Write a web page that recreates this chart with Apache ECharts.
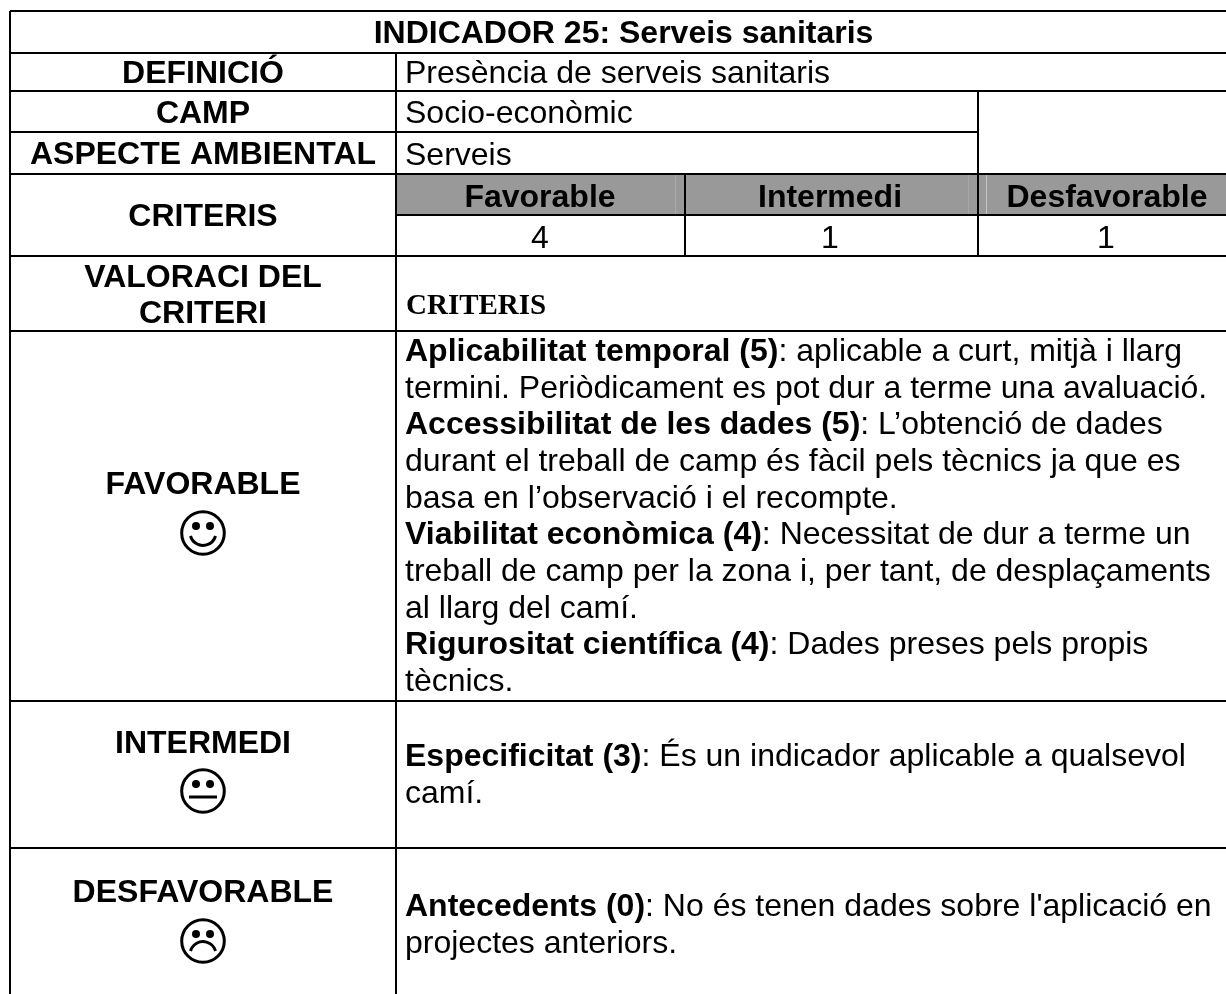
<!DOCTYPE html>
<html>
<head>
<meta charset="utf-8">
<style>html,body{margin:0;padding:0;background:#fff}#main{width:1226px;height:994px}</style>
<script src="https://cdn.jsdelivr.net/npm/echarts@6/dist/echarts.min.js"></script>
</head>
<body>
<div id="main"></div>
<script>
// table content
var titleText = 'INDICADOR 25: Serveis sanitaris';
var headLabels = ['DEFINICIÓ', 'CAMP', 'ASPECTE AMBIENTAL', 'CRITERIS'];
var headValues = ['Presència de serveis sanitaris', 'Socio-econòmic', 'Serveis'];
var criteriaNames = ['Favorable', 'Intermedi', 'Desfavorable'];
var criteriaScores = [4, 1, 1];
var valoraLabel = ['VALORACI DEL', 'CRITERI'];
var valoraValue = 'CRITERIS';
var groupNames = ['FAVORABLE', 'INTERMEDI', 'DESFAVORABLE'];
var favorableLines = [
  ['Aplicabilitat temporal (5)', ': aplicable a curt, mitjà i llarg'],
  ['', 'termini. Periòdicament es pot dur a terme una avaluació.'],
  ['Accessibilitat de les dades (5)', ': L’obtenció de dades'],
  ['', 'durant el treball de camp és fàcil pels tècnics ja que es'],
  ['', 'basa en l’observació i el recompte.'],
  ['Viabilitat econòmica (4)', ': Necessitat de dur a terme un'],
  ['', 'treball de camp per la zona i, per tant, de desplaçaments'],
  ['', 'al llarg del camí.'],
  ['Rigurositat científica (4)', ': Dades preses pels propis'],
  ['', 'tècnics.']
];
var intermediLines = [
  ['Especificitat (3)', ': És un indicador aplicable a qualsevol'],
  ['', 'camí.']
];
var desfavorableLines = [
  ['Antecedents (0)', ': No és tenen dades sobre l\'aplicació en'],
  ['', 'projectes anteriors.']
];

// layout in image pixels
var W = 1226, H = 994;
var xL = 10, xM = 396, xA = 685, xB = 978;
var yRow = [11, 53, 91, 132, 174, 215, 256, 331, 701, 848];
var pitch = 36.7;
var fontSize = 32;
var textX = 405;
var sansFont = '"Liberation Sans", Arial, sans-serif';

var rules = [
  [xL, yRow[0], W, yRow[0]], [xL, yRow[1], W, yRow[1]], [xL, yRow[2], W, yRow[2]],
  [xL, yRow[3], xB, yRow[3]], [xL, yRow[4], W, yRow[4]], [xM, yRow[5], W, yRow[5]],
  [xL, yRow[6], W, yRow[6]], [xL, yRow[7], W, yRow[7]], [xL, yRow[8], W, yRow[8]],
  [xL, yRow[9], W, yRow[9]],
  [xL, yRow[0], xL, H], [xM, yRow[1], xM, H],
  [xB, yRow[2], xB, yRow[6]], [xA, yRow[4], xA, yRow[6]]
];
// pale scan marks inside the grey header cells
var paleMarks = [[675.5, '#aaaaaa'], [968.5, '#a6a6a6'], [986.5, '#c4c4c4']];

var texts = [];
function addText(x, y, text, align, bold, size) {
  texts.push({ value: [x, y], text: text, align: align, bold: bold, size: size });
}
function addLines(lines, y0) {
  lines.forEach(function (l, i) {
    texts.push({ value: [textX, y0 + i * pitch], parts: l });
  });
}
addText(623.5, 34, titleText, 'center', true, fontSize);
addText(203, 74, headLabels[0], 'center', true, fontSize);
addText(203, 114, headLabels[1], 'center', true, fontSize);
addText(203, 155, headLabels[2], 'center', true, fontSize);
addText(203, 217, headLabels[3], 'center', true, fontSize);
addText(textX, 74, headValues[0], 'left', false, fontSize);
addText(textX, 114, headValues[1], 'left', false, fontSize);
addText(textX, 156, headValues[2], 'left', false, fontSize);
[[540, 540], [830, 830], [1107, 1106]].forEach(function (cx, i) {
  addText(cx[0], 198, criteriaNames[i], 'center', true, fontSize);
  addText(cx[1], 239, String(criteriaScores[i]), 'center', false, fontSize);
});
addText(203, 278, valoraLabel[0], 'center', true, fontSize);
addText(203, 314.5, valoraLabel[1], 'center', true, fontSize);
addText(textX + 1, 307, valoraValue, 'serif', true, 29);
addText(203, 485.5, groupNames[0], 'center', true, fontSize);
addText(203, 744, groupNames[1], 'center', true, fontSize);
addText(203, 893.5, groupNames[2], 'center', true, fontSize);
addLines(favorableLines, 352);
addLines(intermediLines, 757);
addLines(desfavorableLines, 907);

var faces = [[203, 533, 0], [203, 791, 1], [203, 941, 2]];
var greyCells = [[xM, yRow[4], W, yRow[5]]];

function renderRect(params, api) {
  var a = api.coord([api.value(0), api.value(1)]), b = api.coord([api.value(2), api.value(3)]);
  return { type: 'rect', shape: { x: a[0], y: a[1], width: b[0] - a[0], height: b[1] - a[1] }, style: { fill: '#999999' } };
}
function renderRule(params, api) {
  var a = api.coord([api.value(0), api.value(1)]), b = api.coord([api.value(2), api.value(3)]);
  return { type: 'line', shape: { x1: a[0], y1: a[1], x2: b[0], y2: b[1] }, style: { stroke: '#000', lineWidth: 2 } };
}
function renderPale(params, api) {
  var a = api.coord([paleMarks[params.dataIndex][0], yRow[4] + 1]), b = api.coord([paleMarks[params.dataIndex][0], yRow[5] - 1]);
  return { type: 'line', shape: { x1: a[0], y1: a[1], x2: b[0], y2: b[1] }, style: { stroke: paleMarks[params.dataIndex][1], lineWidth: 1 } };
}
function renderText(params, api) {
  var d = texts[params.dataIndex];
  var p = api.coord(d.value);
  if (d.parts) {
    return {
      type: 'text', x: p[0], y: p[1],
      style: {
        text: (d.parts[0] ? '{b|' + d.parts[0] + '}' : '') + '{n|' + d.parts[1] + '}',
        align: 'left', verticalAlign: 'middle',
        rich: {
          b: { fontFamily: sansFont, fontSize: fontSize, fontWeight: 'bold', fill: '#000' },
          n: { fontFamily: sansFont, fontSize: fontSize, fill: '#000' }
        }
      }
    };
  }
  var serif = d.align === 'serif';
  return {
    type: 'text', x: p[0], y: p[1],
    style: {
      text: d.text, align: serif ? 'left' : d.align, verticalAlign: 'middle', fill: '#000',
      font: (d.bold ? 'bold ' : '') + d.size + 'px ' + (serif ? '"Liberation Serif", serif' : sansFont)
    }
  };
}
function renderFace(params, api) {
  var c = api.coord([api.value(0), api.value(1)]);
  var kind = api.value(2);
  var x = c[0], y = c[1];
  var mouth = kind === 0 ? 'M' + (x - 12.5) + ' ' + (y + 3) + ' A13 13 0 0 0 ' + (x + 12.5) + ' ' + (y + 3)
    : kind === 1 ? 'M' + (x - 14) + ' ' + (y + 6) + ' L' + (x + 14) + ' ' + (y + 6)
    : 'M' + (x - 12.5) + ' ' + (y + 10) + ' A13 13 0 0 1 ' + (x + 12.5) + ' ' + (y + 10);
  return {
    type: 'group',
    children: [
      { type: 'circle', shape: { cx: x, cy: y, r: 21.3 }, style: { fill: '#fff', stroke: '#000', lineWidth: 3 } },
      { type: 'circle', shape: { cx: x - 7, cy: y - 7, r: 4 }, style: { fill: '#000' } },
      { type: 'circle', shape: { cx: x + 7, cy: y - 7, r: 4 }, style: { fill: '#000' } },
      { type: 'path', shape: { pathData: mouth }, style: { fill: 'none', stroke: '#000', lineWidth: 3 } }
    ]
  };
}

var chart = echarts.init(document.getElementById('main'));
chart.setOption({
  animation: false,
  backgroundColor: '#fff',
  grid: { left: 0, right: 0, top: 0, bottom: 0 },
  xAxis: { type: 'value', min: 0, max: W, show: false },
  yAxis: { type: 'value', min: 0, max: H, inverse: true, show: false },
  tooltip: { show: false },
  series: [
    { type: 'custom', renderItem: renderRect, data: greyCells, silent: true, z: 1, clip: false },
    { type: 'custom', renderItem: renderPale, data: paleMarks.map(function (m) { return [m[0]]; }), silent: true, z: 2, clip: false },
    { type: 'custom', renderItem: renderRule, data: rules, silent: true, z: 3, clip: false },
    { type: 'custom', renderItem: renderFace, data: faces, silent: true, z: 4, clip: false },
    { type: 'custom', renderItem: renderText, data: texts.map(function (t) { return t.value; }), silent: true, z: 5, clip: false }
  ]
});
</script>
</body>
</html>
